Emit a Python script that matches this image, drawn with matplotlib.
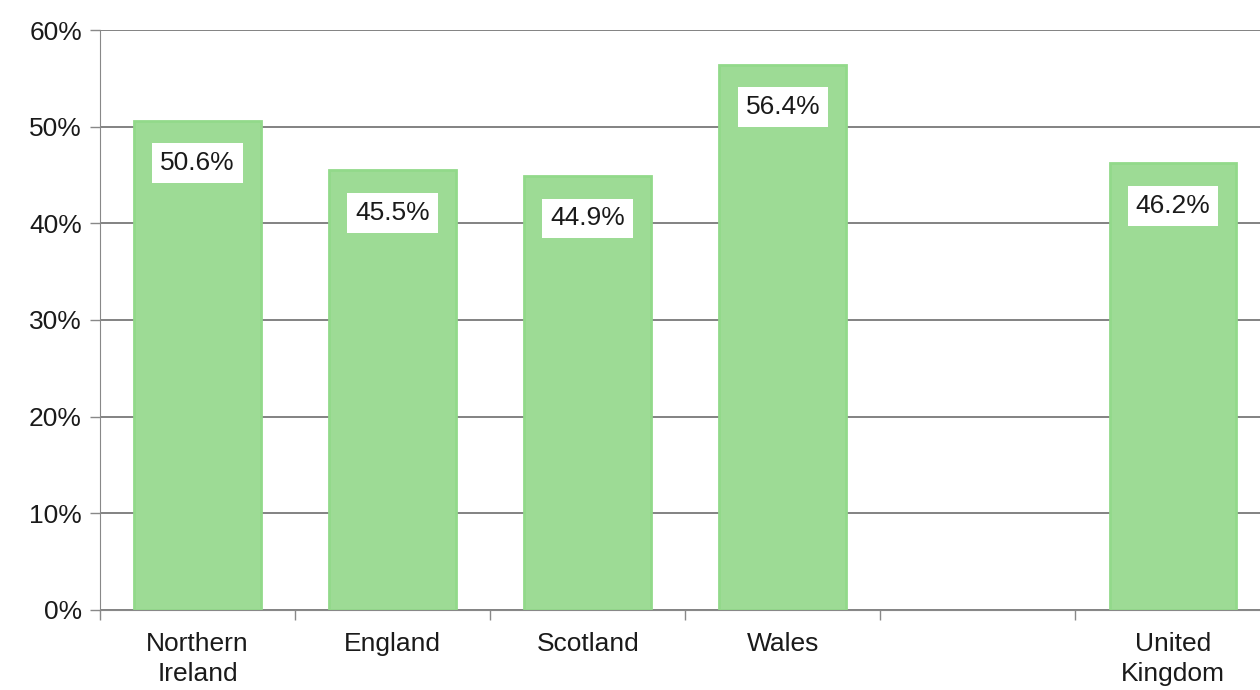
import matplotlib.pyplot as plt
import numpy as np

# Porcentaje por región
regiones = ["Northern\nIreland", "England", "Scotland", "Wales", "", "United\nKingdom"]
valores = [50.6, 45.5, 44.9, 56.4, None, 46.2]
etiquetas = ["50.6%", "45.5%", "44.9%", "56.4%", None, "46.2%"]
yticks = [0, 10, 20, 30, 40, 50, 60]

plt.rcParams['font.family'] = ['Liberation Sans', 'DejaVu Sans']

fig = plt.figure(figsize=(12.6, 6.9), dpi=100)
ax = fig.add_axes([0.0794, 0.116, 0.929, 0.8405])

x = np.arange(len(regiones))
# Solo las regiones con dato (el hueco queda vacío)
x_bar = [xi for xi, v in zip(x, valores) if v is not None]
v_bar = [v for v in valores if v is not None]
ax.bar(x_bar, v_bar, width=0.65, color='#9ddb95', edgecolor='#92d98a',
       linewidth=2, zorder=2)

# Etiquetas de valor en cajas blancas
for xi, v, txt in zip(x, valores, etiquetas):
    if v is None:
        continue
    ax.text(xi, v - 4.4, txt, ha='center', va='center', fontsize=19, color='#1a1a1a',
            zorder=3, bbox=dict(boxstyle='square,pad=0.3', facecolor='white', edgecolor='none'))

ax.set_xlim(-0.5, len(regiones) - 0.5)
ax.set_ylim(0, 60)
ax.set_yticks(yticks)
ax.set_yticklabels([f"{t}%" for t in yticks], fontsize=19, color='#1a1a1a')
ax.yaxis.grid(True, color='#606060', linewidth=1.1, zorder=0)
ax.set_axisbelow(True)

ax.set_xticks(x)
ax.set_xticklabels(regiones, fontsize=19, color='#1a1a1a', linespacing=1.3)
ax.set_xticks(np.arange(len(regiones) + 1) - 0.5, minor=True)
ax.tick_params(axis='x', which='major', length=0, pad=16)
ax.tick_params(axis='x', which='minor', length=7, color='#888888', width=1)
ax.tick_params(axis='y', length=7, color='#888888', width=1, pad=6)

for s in ['top', 'right']:
    ax.spines[s].set_visible(False)
ax.spines['left'].set_color('#888888')
ax.spines['bottom'].set_color('#888888')

fig.savefig("out.png", dpi=100)
